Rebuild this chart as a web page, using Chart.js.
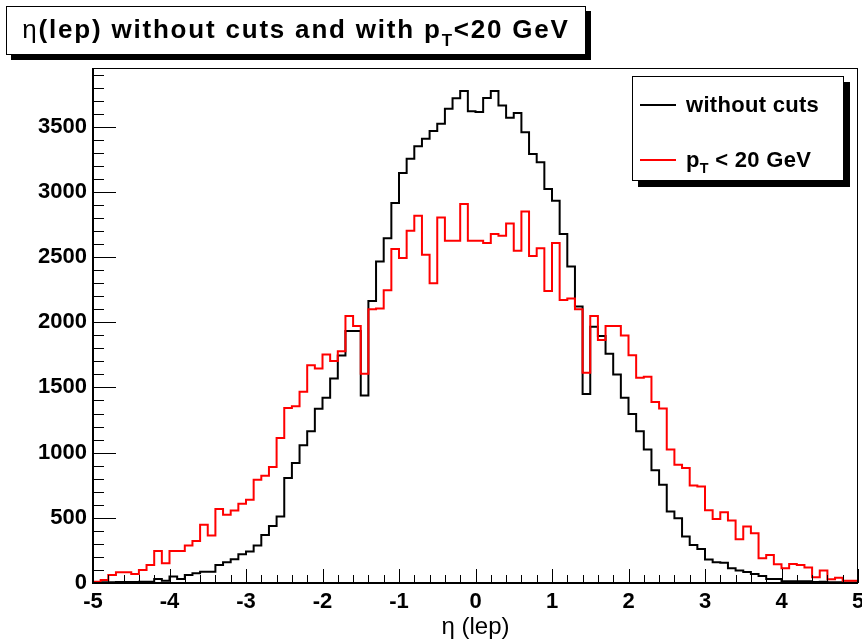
<!DOCTYPE html>
<html lang="en">
<head>
  <meta charset="UTF-8">
  <title>eta(lep) without cuts and with pT &lt; 20 GeV</title>
  <script src="https://cdn.jsdelivr.net/npm/chart.js"></script>
  <style>
    body { margin: 0; background: #fff; }
    #wrap { position: relative; width: 862px; height: 644px; font-family: "Liberation Sans", Arial, sans-serif; color: #000; }
    #etaChart { position: absolute; left: 0; top: 0; }
    .box { position: absolute; background: #fff; border: 1px solid #000; }
    #title { left: 6px; top: 6px; width: 578px; height: 47px; box-shadow: 5px 5px 0 #000;
             font-weight: bold; font-size: 26px; letter-spacing: 1.8px; text-align: center; line-height: 44px; white-space: nowrap; }
    #legend { left: 632px; top: 76px; width: 210px; height: 103px; box-shadow: 6px 6px 0 #000;
              font-weight: bold; font-size: 22px; letter-spacing: 0.3px; }
    .entry { position: absolute; left: 0; width: 100%; height: 30px; }
    .swatch { position: absolute; left: 7px; top: 14px; width: 36px; height: 0; border-top: 2px solid; }
    .label { position: absolute; left: 53px; top: 0; line-height: 30px; white-space: nowrap; }
    .eta { font-weight: normal; }
    sub { font-size: 0.65em; line-height: 0; vertical-align: -0.45em; }
  </style>
</head>
<body>
<div id="wrap">
  <canvas id="etaChart" width="862" height="644"></canvas>
  <div id="title" class="box"><span class="eta">η</span>(lep) without cuts and with p<sub>T</sub>&lt;20 GeV</div>
  <div id="legend" class="box">
    <div class="entry" style="top:13px"><div class="swatch" style="border-color:#000"></div><div class="label">without cuts</div></div>
    <div class="entry" style="top:68px"><div class="swatch" style="border-color:#ff0000"></div><div class="label">p<sub>T</sub> &lt; 20 GeV</div></div>
  </div>
</div>

<script>
  // histogram: 100 bins of 0.1 from -5 to 5
  const binLow = -5;
  const binWidth = 0.1;

  const withoutCuts = [
    3, 5, 5, 8, 8, 8, 10, 10, 31, 18,
    49, 31, 62, 74, 87, 87, 138, 159, 182, 220,
    241, 287, 369, 438, 510, 805, 920, 1056, 1164, 1336,
    1420, 1569, 1745, 1933, 1933, 1438, 2163, 2466, 2645, 2914,
    3145, 3253, 3350, 3407, 3466, 3522, 3637, 3718, 3773, 3619,
    3612, 3720, 3773, 3663, 3568, 3604, 3458, 3291, 3227, 3022,
    2932, 2676, 2428, 2120, 1449, 1966, 1894, 1758, 1600, 1420,
    1297, 1164, 1023, 864, 754, 549, 497, 356, 292, 261,
    180, 160, 156, 113, 95, 85, 69, 54, 31, 31,
    13, 13, 13, 13, 8, 10, 5, 5, 4, 3
  ];

  const ptBelow20 = [
    10, 23, 62, 82, 82, 69, 100, 138, 246, 151,
    246, 246, 287, 323, 446, 364, 567, 523, 556, 607,
    638, 792, 823, 890, 1113, 1343, 1356, 1466, 1671, 1646,
    1753, 1702, 1777, 2048, 1971, 1605, 2099, 2105, 2245, 2561,
    2492, 2702, 2817, 2517, 2299, 2804, 2625, 2625, 2907, 2625,
    2625, 2607, 2676, 2663, 2758, 2548, 2850, 2509, 2568, 2240,
    2607, 2171, 2182, 2099, 1612, 2048, 1864, 1971, 1971, 1899,
    1746, 1574, 1582, 1389, 1338, 1023, 907, 882, 748, 741,
    558, 490, 543, 479, 336, 433, 382, 190, 215, 144,
    113, 146, 138, 118, 44, 95, 28, 41, 18, 18
  ];

  const xTickValues = [-5, -4, -3, -2, -1, 0, 1, 2, 3, 4, 5];
  const yTickValues = [0, 500, 1000, 1500, 2000, 2500, 3000, 3500];
  const xMin = -5, xMax = 5, xMinor = 0.2;
  const yMin = 0, yMax = 3950, yMinor = 100;

  // step outline: one point per bin low edge, plus closing point at the last edge
  function histPoints(values) {
    const pts = values.map((v, i) => ({ x: binLow + i * binWidth, y: v }));
    pts.push({ x: binLow + values.length * binWidth, y: values[values.length - 1] });
    return pts;
  }

  // ROOT style frame: ticks inside, on left and bottom only
  const rootAxes = {
    id: 'rootAxes',
    afterDatasetsDraw(chart) {
      const { ctx, chartArea: a, scales: { x, y } } = chart;
      ctx.save();
      ctx.strokeStyle = '#000';
      ctx.lineWidth = 1;
      ctx.strokeRect(a.left + 0.5, a.top + 0.5, a.right - a.left - 1, a.bottom - a.top - 1);

      ctx.beginPath();
      for (let k = 0; k * yMinor <= yMax; k++) {
        const v = k * yMinor;
        const py = Math.round(y.getPixelForValue(v)) + 0.5;
        const len = yTickValues.includes(v) ? 23 : 11;
        ctx.moveTo(a.left, py);
        ctx.lineTo(a.left + len, py);
      }
      const nx = Math.round((xMax - xMin) / xMinor);
      for (let k = 0; k <= nx; k++) {
        const v = xMin + k * xMinor;
        const px = Math.round(x.getPixelForValue(v)) + 0.5;
        const len = xTickValues.some(t => Math.abs(t - v) < 1e-6) ? 14 : 8;
        ctx.moveTo(px, a.bottom);
        ctx.lineTo(px, a.bottom - len);
      }
      ctx.stroke();

      ctx.lineWidth = 2;
      ctx.beginPath();
      ctx.moveTo(a.left, a.top);
      ctx.lineTo(a.left, a.bottom);
      ctx.lineTo(a.right, a.bottom);
      ctx.stroke();
      ctx.restore();
    }
  };

  Chart.defaults.font.family = '"Liberation Sans", Arial, sans-serif';
  Chart.defaults.color = '#000';

  const ctx = document.getElementById('etaChart').getContext('2d');
  new Chart(ctx, {
    type: 'line',
    data: {
      datasets: [
        {
          label: 'without cuts',
          data: histPoints(withoutCuts),
          borderColor: '#000000',
          borderWidth: 2,
          pointRadius: 0,
          stepped: true,
          fill: false,
          order: 2
        },
        {
          label: 'pT < 20 GeV',
          data: histPoints(ptBelow20),
          borderColor: '#ff0000',
          borderWidth: 2,
          pointRadius: 0,
          stepped: true,
          fill: false,
          order: 1
        }
      ]
    },
    options: {
      responsive: false,
      animation: false,
      layout: { padding: { top: 68, right: 4, left: 0, bottom: 0 } },
      plugins: {
        legend: { display: false },
        tooltip: { enabled: false }
      },
      scales: {
        x: {
          type: 'linear',
          min: xMin,
          max: xMax,
          grid: { display: false, drawTicks: false },
          border: { display: false },
          afterBuildTicks(scale) {
            scale.ticks = xTickValues.map(v => ({ value: v }));
          },
          ticks: {
            autoSkip: false,
            maxRotation: 0,
            padding: 6,
            font: { size: 22, weight: 'bold' },
            callback: v => String(v)
          },
          title: {
            display: true,
            text: 'η (lep)',
            font: { size: 24 },
            padding: { top: 0, bottom: 2 }
          },
          afterFit(scale) {
            scale.height = 61;
            scale.paddingLeft = 0;
            scale.paddingRight = 0;
          }
        },
        y: {
          type: 'linear',
          min: yMin,
          max: yMax,
          grid: { display: false, drawTicks: false },
          border: { display: false },
          afterBuildTicks(scale) {
            scale.ticks = yTickValues.map(v => ({ value: v }));
          },
          ticks: {
            autoSkip: false,
            padding: 6,
            font: { size: 22, weight: 'bold' },
            callback: v => String(v)
          },
          afterFit(scale) {
            scale.width = 93;
            scale.paddingTop = 0;
            scale.paddingBottom = 0;
          }
        }
      }
    },
    plugins: [rootAxes]
  });
</script>
</body>
</html>
